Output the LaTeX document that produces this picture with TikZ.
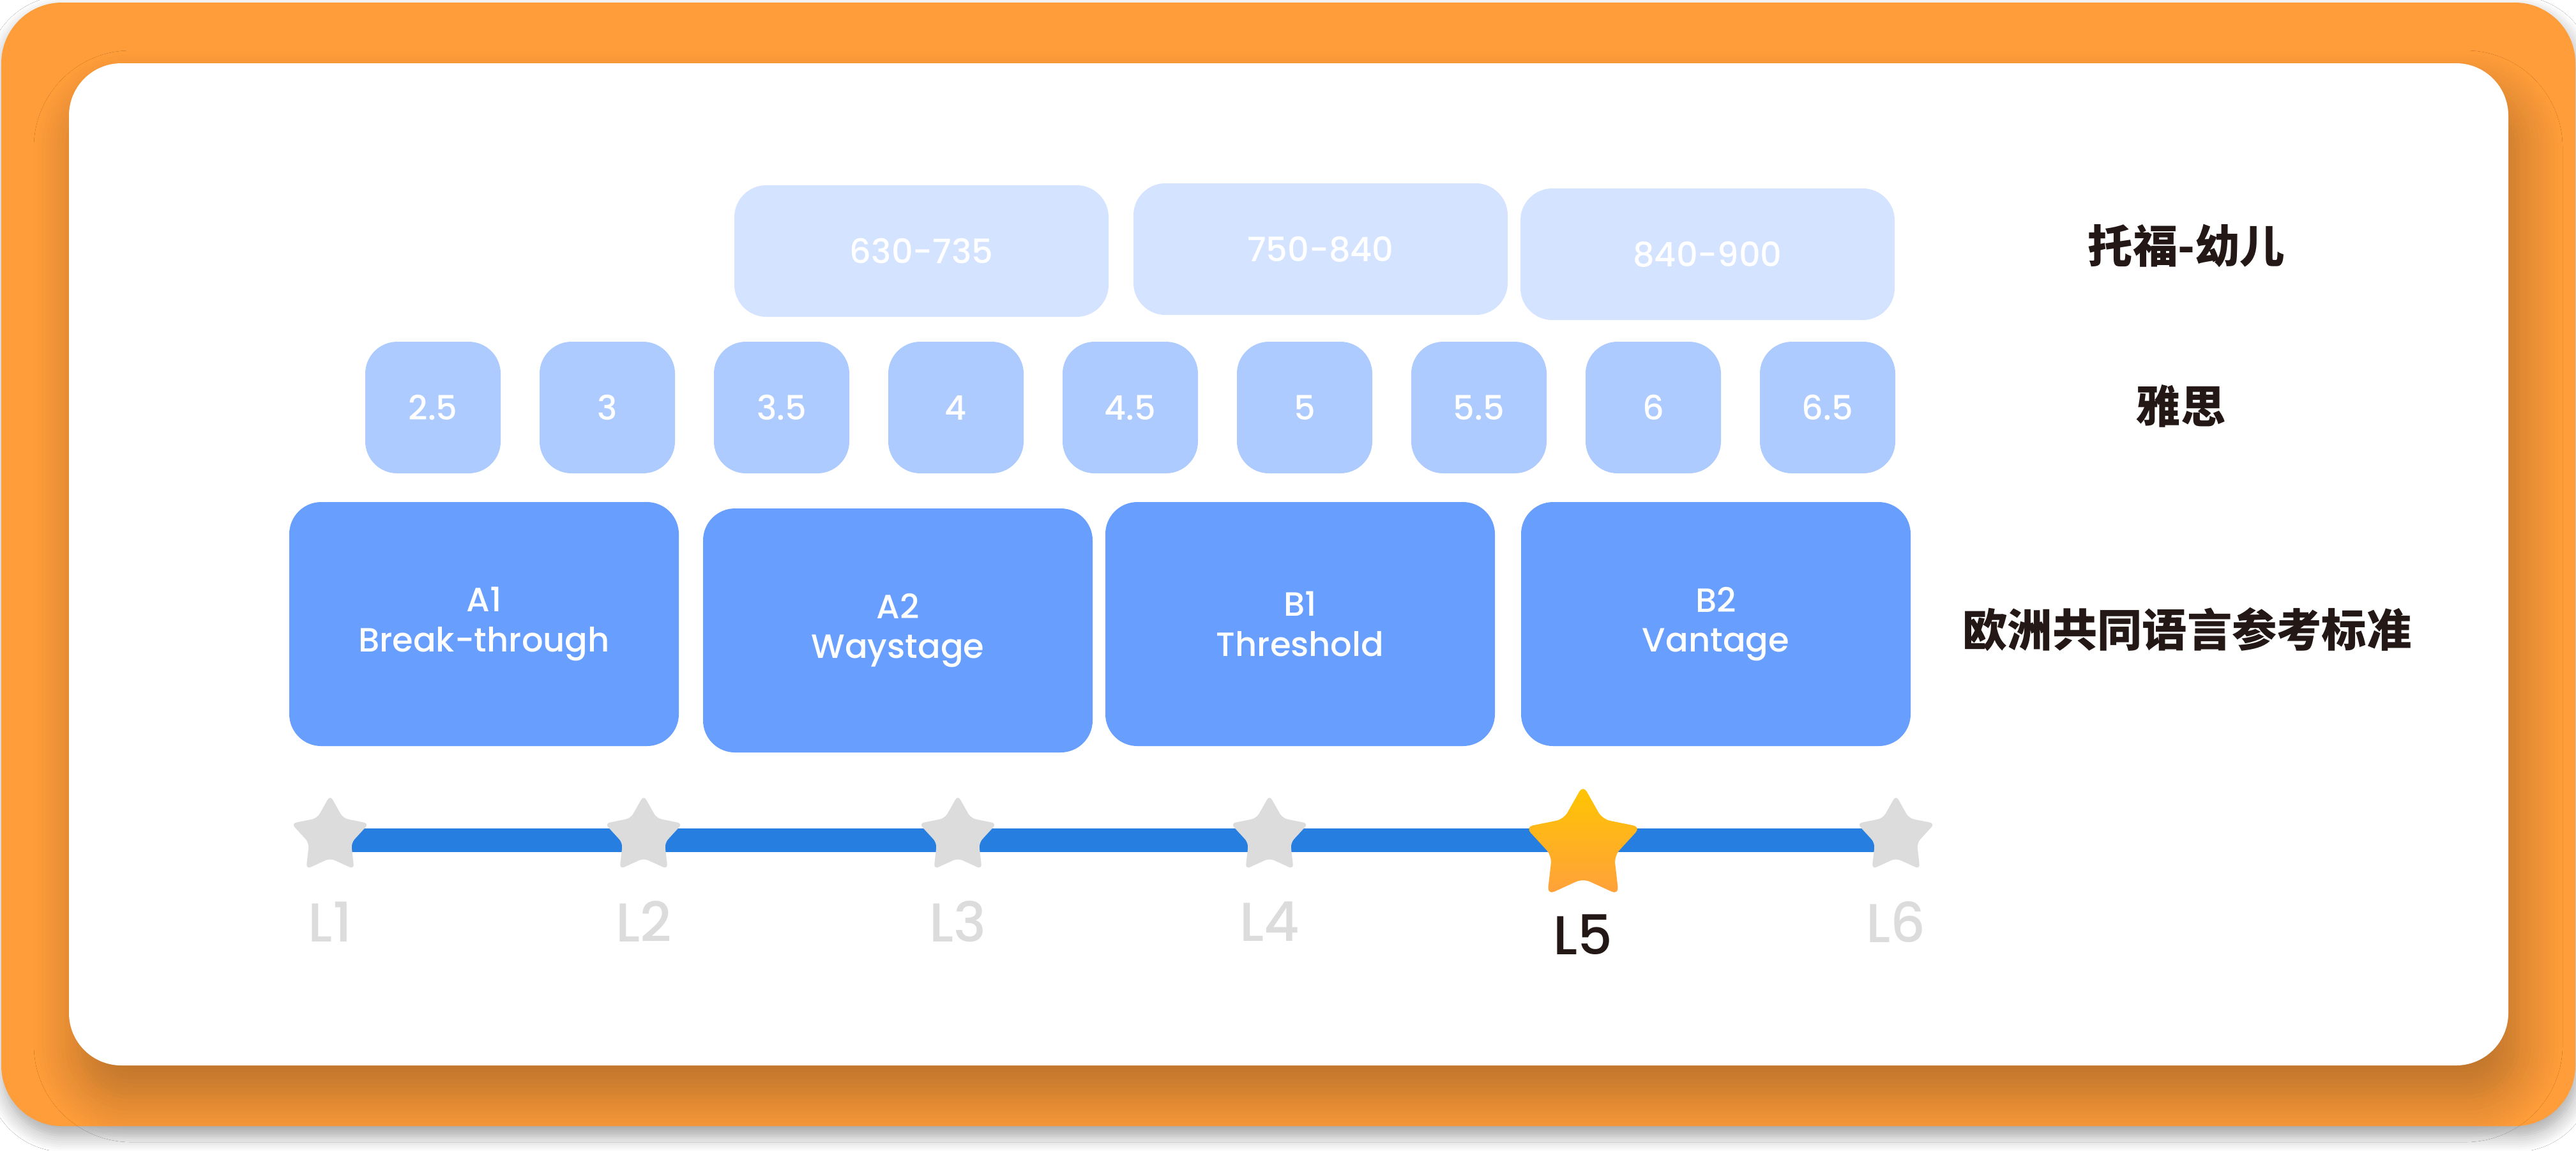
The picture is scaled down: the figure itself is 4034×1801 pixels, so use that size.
\documentclass[tikz,border=0pt]{standalone}
\usepackage{fontspec}
\setmainfont{Poppins}
\newfontfamily\medfont{Poppins Medium}
\newfontfamily\cjk{Noto Sans CJK SC}
\usetikzlibrary{positioning,shapes.geometric,shadows.blur,backgrounds}

\definecolor{framecol}{HTML}{FF9D3A}
\definecolor{toeflcol}{HTML}{D4E3FF}
\definecolor{ieltscol}{HTML}{AECBFF}
\definecolor{cefrcol}{HTML}{689FFF}
\definecolor{barcol}{HTML}{267FE0}
\definecolor{starcol}{HTML}{DCDCDC}
\definecolor{darkcol}{HTML}{231815}
\definecolor{goldtop}{HTML}{FFC600}
\definecolor{goldbot}{HTML}{FFA03C}

\begin{document}
\begin{tikzpicture}[x=0.1mm, y=-0.1mm,
		toefl/.style={rectangle, rounded corners=5mm, fill=toeflcol, text=white, minimum width=58.6mm, minimum height=20.6mm, inner sep=0pt, outer sep=0pt, font=\medfont\fontsize{15}{18}\selectfont},
		ielts/.style={rectangle, rounded corners=5mm, fill=ieltscol, text=white, minimum width=21.2mm, minimum height=20.6mm, inner sep=0pt, outer sep=0pt, font=\medfont\fontsize{15}{18}\selectfont},
		cefr/.style={rectangle, rounded corners=5mm, fill=cefrcol, text=white, minimum width=61mm, minimum height=38.2mm, inner sep=0pt, outer sep=0pt, align=center, font=\medfont\fontsize{15}{17.9}\selectfont},
		graystar/.style={star, star points=5, star point ratio=1.85, minimum size=12.8mm, inner sep=0pt, rounded corners=0.8mm, fill=starcol},
		goldstar/.style={star, star points=5, star point ratio=1.85, minimum size=19mm, inner sep=0pt, rounded corners=1.2mm, top color=goldtop, bottom color=goldbot},
		lvl/.style={text=starcol, font=\medfont\fontsize{24.4}{28}\selectfont},
		lvlnow/.style={text=darkcol, font=\medfont\fontsize{24.4}{28}\selectfont},
		rowlabel/.style={text=darkcol, font=\cjk\bfseries\fontsize{20}{24}\selectfont}
	]
	\useasboundingbox (0,0) rectangle (4034,1801);
	\begin{scope}[on background layer]
		\fill[white] (0,0) rectangle (4034,1801);
		\fill[framecol, rounded corners=9.5mm, blur shadow={shadow xshift=0.3mm, shadow yshift=-1.5mm, shadow blur radius=2.5mm, shadow opacity=35, shadow blur steps=8}] (2,4) rectangle (4033,1763);
		\fill[white, rounded corners=8.2mm, blur shadow={shadow xshift=1.5mm, shadow yshift=-5mm, shadow blur radius=7mm, shadow opacity=28, shadow blur steps=12}] (108,99) rectangle (3928,1668);
	\end{scope}
	\node[toefl] (t630) at (1443,393) {630-735};
	\node[toefl] (t750) [right=3.9mm of t630, yshift=0.3mm] {750-840};
	\node[toefl] (t840) [right=2mm of t750, yshift=-0.8mm] {840-900};
	\node[ielts] (i25) at (678,638) {2.5};
	\node[ielts] (i30) [right=6.1mm of i25] {3};
	\node[ielts] (i35) [right=6.1mm of i30] {3.5};
	\node[ielts] (i40) [right=6.1mm of i35] {4};
	\node[ielts] (i45) [right=6.1mm of i40] {4.5};
	\node[ielts] (i50) [right=6.1mm of i45] {5};
	\node[ielts] (i55) [right=6.1mm of i50] {5.5};
	\node[ielts] (i60) [right=6.1mm of i55] {6};
	\node[ielts] (i65) [right=6.1mm of i60] {6.5};
	\node[cefr] (a1) at (758,977) {A1\\Break-through};
	\node[cefr] (a2) [right=3.8mm of a1, yshift=-1mm] {A2\\Waystage};
	\node[cefr] (b1) [right=2mm of a2, yshift=1mm] {B1\\Threshold};
	\node[cefr] (b2) [right=4.1mm of b1] {B2\\Vantage};
	\node[rowlabel] (toefllab) at (3424,385) {托福-幼儿};
	\node[rowlabel] (ieltslab) at (3415,636) {雅思};
	\node[rowlabel] (cefrlab) at (3425,985) {欧洲共同语言参考标准};
	\node[graystar] (s1) at (517,1309) {};
	\node[graystar] (s2) at (1008,1309) {};
	\node[graystar] (s3) at (1500,1309) {};
	\node[graystar] (s4) at (1988,1309) {};
	\node[goldstar] (s5) at (2479,1324) {};
	\node[graystar] (s6) at (2969,1309) {};
	\begin{scope}[on background layer]
		\draw[barcol, line width=3.7mm] ([yshift=-0.6mm]s1.center) -- ([yshift=-0.6mm]s6.center);
	\end{scope}
	\node[lvl] (l1) at (517,1443) {L1};
	\node[lvl] (l2) at (1008,1443) {L2};
	\node[lvl] (l3) at (1500,1443) {L3};
	\node[lvl] (l4) at (1988,1443) {L4};
	\node[lvlnow] (l5) at (2479,1463) {L5};
	\node[lvl] (l6) at (2969,1443) {L6};
\end{tikzpicture}
\end{document}
